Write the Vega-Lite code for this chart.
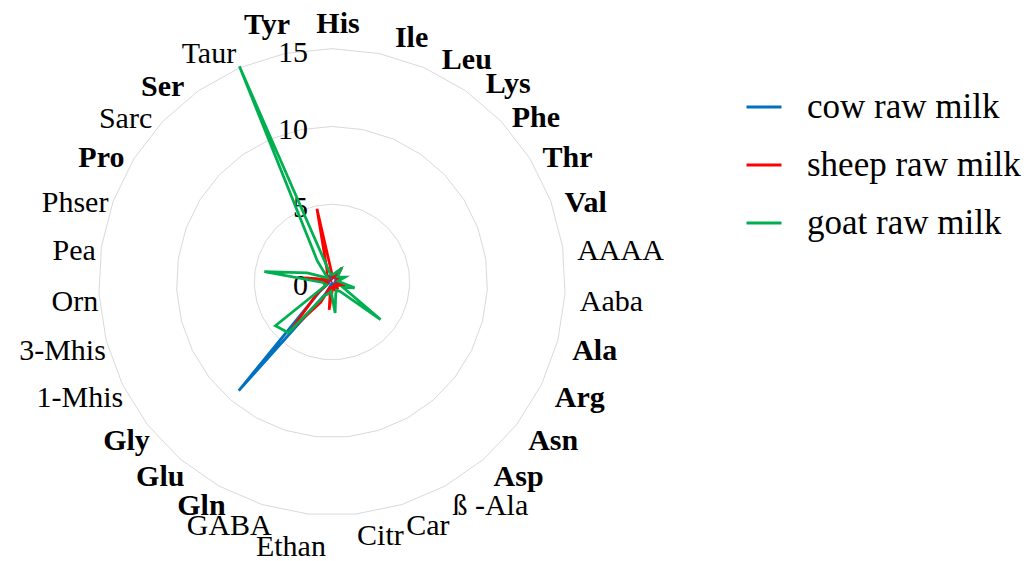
{
  "$schema": "https://vega.github.io/schema/vega-lite/v6.json",
  "width": 556,
  "height": 556,
  "autosize": {"type": "none"},
  "padding": {"left": 54, "top": 4, "right": 425, "bottom": 1},
  "background": "white",
  "config": {
    "view": {"stroke": null},
    "text": {"font": "Liberation Serif", "fontSize": 30, "color": "black", "baseline": "middle"}
  },
  "datasets": {
    "amino": [
      {"aa": "His", "i": 0, "group": "standard", "cow": 0.3, "sheep": 0.5, "goat": 0.5},
      {"aa": "Ile", "i": 1, "group": "standard", "cow": 0.3, "sheep": 0.3, "goat": 0.5},
      {"aa": "Leu", "i": 2, "group": "standard", "cow": 0.4, "sheep": 0.6, "goat": 0.7},
      {"aa": "Lys", "i": 3, "group": "standard", "cow": 0.5, "sheep": 1.1, "goat": 1.0},
      {"aa": "Phe", "i": 4, "group": "standard", "cow": 0.3, "sheep": 0.4, "goat": 0.5},
      {"aa": "Thr", "i": 5, "group": "standard", "cow": 0.3, "sheep": 0.5, "goat": 0.6},
      {"aa": "Val", "i": 6, "group": "standard", "cow": 0.4, "sheep": 0.6, "goat": 0.9},
      {"aa": "AAAA", "i": 7, "group": "other", "cow": 0.2, "sheep": 0.3, "goat": 0.4},
      {"aa": "Aaba", "i": 8, "group": "other", "cow": 0.2, "sheep": 0.4, "goat": 0.6},
      {"aa": "Ala", "i": 9, "group": "standard", "cow": 0.6, "sheep": 0.9, "goat": 1.5},
      {"aa": "Arg", "i": 10, "group": "standard", "cow": 0.3, "sheep": 0.5, "goat": 0.8},
      {"aa": "Asn", "i": 11, "group": "standard", "cow": 0.2, "sheep": 0.3, "goat": 3.95},
      {"aa": "Asp", "i": 12, "group": "standard", "cow": 0.5, "sheep": 0.6, "goat": 0.8},
      {"aa": "ß -Ala", "i": 13, "group": "other", "cow": 0.2, "sheep": 0.3, "goat": 0.6},
      {"aa": "Car", "i": 14, "group": "other", "cow": 0.3, "sheep": 0.5, "goat": 0.8},
      {"aa": "Citr", "i": 15, "group": "other", "cow": 0.3, "sheep": 0.4, "goat": 2.0},
      {"aa": "Ethan", "i": 16, "group": "other", "cow": 0.4, "sheep": 1.8, "goat": 0.6},
      {"aa": "GABA", "i": 17, "group": "other", "cow": 0.2, "sheep": 0.3, "goat": 0.8},
      {"aa": "Gln", "i": 18, "group": "standard", "cow": 0.9, "sheep": 1.5, "goat": 1.0},
      {"aa": "Glu", "i": 19, "group": "standard", "cow": 9.2, "sheep": 4.0, "goat": 4.3},
      {"aa": "Gly", "i": 20, "group": "standard", "cow": 1.0, "sheep": 1.2, "goat": 4.6},
      {"aa": "1-Mhis", "i": 21, "group": "other", "cow": 0.3, "sheep": 0.4, "goat": 0.4},
      {"aa": "3-Mhis", "i": 22, "group": "other", "cow": 0.2, "sheep": 0.3, "goat": 0.5},
      {"aa": "Orn", "i": 23, "group": "other", "cow": 0.2, "sheep": 0.3, "goat": 0.6},
      {"aa": "Pea", "i": 24, "group": "other", "cow": 1.6, "sheep": 1.8, "goat": 4.4},
      {"aa": "Phser", "i": 25, "group": "other", "cow": 0.3, "sheep": 0.5, "goat": 1.7},
      {"aa": "Pro", "i": 26, "group": "standard", "cow": 0.3, "sheep": 0.5, "goat": 0.6},
      {"aa": "Sarc", "i": 27, "group": "other", "cow": 0.2, "sheep": 0.2, "goat": 0.4},
      {"aa": "Ser", "i": 28, "group": "standard", "cow": 0.3, "sheep": 0.6, "goat": 1.65},
      {"aa": "Taur", "i": 29, "group": "other", "cow": 0.5, "sheep": 0.8, "goat": 15.1},
      {"aa": "Tyr", "i": 30, "group": "standard", "cow": 0.2, "sheep": 4.8, "goat": 0.5}
    ],
    "ticks": [{"v": 0}, {"v": 5}, {"v": 10}, {"v": 15}]
  },
  "layer": [
    {
      "data": {"name": "amino"},
      "transform": [
        {"calculate": "5", "as": "g5"},
        {"calculate": "10", "as": "g10"},
        {"calculate": "15", "as": "g15"},
        {"fold": ["g5", "g10", "g15"], "as": ["level", "r"]},
        {"calculate": "datum.r*sin(datum.i*2*PI/31)", "as": "px"},
        {"calculate": "datum.r*cos(datum.i*2*PI/31)", "as": "py"}
      ],
      "mark": {"type": "line", "interpolate": "linear-closed", "color": "#D9D9D9", "strokeWidth": 1},
      "encoding": {
        "x": {"field": "px", "type": "quantitative", "scale": {"domain": [-17.875, 17.875], "nice": false, "zero": false}, "axis": null},
        "y": {"field": "py", "type": "quantitative", "scale": {"domain": [-17.875, 17.875], "nice": false, "zero": false}, "axis": null},
        "detail": {"field": "level", "type": "nominal"},
        "order": {"field": "i", "type": "quantitative"}
      }
    },
    {
      "data": {"name": "ticks"},
      "mark": {"type": "text", "align": "right", "dx": -24, "dy": 4},
      "encoding": {
        "x": {"datum": 0, "type": "quantitative"},
        "y": {"field": "v", "type": "quantitative"},
        "text": {"field": "v", "type": "quantitative"}
      }
    },
    {
      "data": {"name": "amino"},
      "transform": [
        {"fold": ["cow", "sheep", "goat"], "as": ["key", "value"]},
        {"calculate": "datum.value*sin(datum.i*2*PI/31)", "as": "px"},
        {"calculate": "datum.value*cos(datum.i*2*PI/31)", "as": "py"}
      ],
      "mark": {"type": "line", "interpolate": "linear-closed", "strokeWidth": 2.75},
      "encoding": {
        "x": {"field": "px", "type": "quantitative"},
        "y": {"field": "py", "type": "quantitative"},
        "order": {"field": "i", "type": "quantitative"},
        "color": {
          "field": "key",
          "type": "nominal",
          "scale": {"domain": ["cow", "sheep", "goat"], "range": ["#0070C0", "#FF0000", "#00B050"]},
          "legend": {
            "title": null,
            "orient": "none",
            "legendX": 691,
            "legendY": 84,
            "padding": 0,
            "symbolType": "stroke",
            "symbolSize": 1225,
            "symbolStrokeWidth": 3,
            "labelFont": "Liberation Serif",
            "labelFontSize": 35,
            "labelColor": "black",
            "labelOffset": 24,
            "rowPadding": 21,
            "labelLimit": 400,
            "labelExpr": "datum.label + ' raw milk'"
          }
        }
      }
    },
    {
      "data": {"name": "amino"},
      "transform": [
        {"calculate": "15.95*sin(datum.i*2*PI/31)", "as": "lx"},
        {"calculate": "15.95*cos(datum.i*2*PI/31)", "as": "ly"}
      ],
      "encoding": {
        "x": {"field": "lx", "type": "quantitative"},
        "y": {"field": "ly", "type": "quantitative"},
        "text": {"field": "aa", "type": "nominal"}
      },
      "layer": [
        {"transform": [{"filter": "datum.i==0"}], "mark": {"type": "text", "align": "center", "dx": 6, "dy": -10, "fontWeight": "bold"}},
        {"transform": [{"filter": "datum.i==1"}], "mark": {"type": "text", "align": "left", "dx": 13, "dy": -1, "fontWeight": "bold"}},
        {"transform": [{"filter": "datum.i>=2 && datum.i<=3"}], "mark": {"type": "text", "align": "left", "dx": 12, "dy": 6, "fontWeight": "bold"}},
        {"transform": [{"filter": "datum.i>=4 && datum.i<=15 && datum.group=='standard'"}], "mark": {"type": "text", "align": "left", "dx": 0, "dy": 7, "fontWeight": "bold"}},
        {"transform": [{"filter": "datum.i>=4 && datum.i<=15 && datum.group!='standard'"}], "mark": {"type": "text", "align": "left", "dx": 0, "dy": 7}},
        {"transform": [{"filter": "datum.i==16"}], "mark": {"type": "text", "align": "center", "dx": -16, "dy": 18}},
        {"transform": [{"filter": "datum.i>=17 && datum.i<=23 && datum.group=='standard'"}], "mark": {"type": "text", "align": "right", "dx": 14, "dy": 7, "fontWeight": "bold"}},
        {"transform": [{"filter": "datum.i>=17 && datum.i<=23 && datum.group!='standard'"}], "mark": {"type": "text", "align": "right", "dx": 14, "dy": 7}},
        {"transform": [{"filter": "datum.i>=24 && datum.i<=25"}], "mark": {"type": "text", "align": "right", "dx": 9, "dy": 7}},
        {"transform": [{"filter": "datum.i==26"}], "mark": {"type": "text", "align": "right", "dx": 3, "dy": 7, "fontWeight": "bold"}},
        {"transform": [{"filter": "datum.i==27"}], "mark": {"type": "text", "align": "right", "dx": 0, "dy": 8}},
        {"transform": [{"filter": "datum.i==28"}], "mark": {"type": "text", "align": "right", "dx": -6, "dy": 9, "fontWeight": "bold"}},
        {"transform": [{"filter": "datum.i==29"}], "mark": {"type": "text", "align": "right", "dx": 2, "dy": 0}},
        {"transform": [{"filter": "datum.i==30"}], "mark": {"type": "text", "align": "right", "dx": 8, "dy": -14, "fontWeight": "bold"}}
      ]
    }
  ]
}
